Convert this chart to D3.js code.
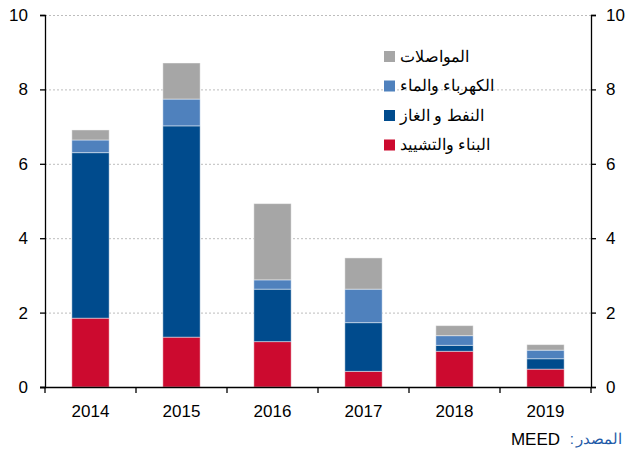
<!DOCTYPE html>
<html><head><meta charset="utf-8">
<script src="https://cdn.jsdelivr.net/npm/d3@7"></script>
<style>body{margin:0;background:#fff}svg{display:block}</style>
</head><body>
<script>
const years = ["2014","2015","2016","2017","2018","2019"];
const construction = [1.85, 1.34, 1.22, 0.42, 0.96, 0.48];
const oilGas = [4.45, 5.68, 1.41, 1.31, 0.16, 0.28];
const powerWater = [0.34, 0.72, 0.25, 0.90, 0.26, 0.23];
const telecom = [0.27, 0.97, 2.05, 0.84, 0.27, 0.15];
const seriesNames = ["البناء والتشييد", "النفط و الغاز", "الكهرباء والماء", "المواصلات"];
const seriesColors = ["#CC0A2F", "#004B8D", "#4F81BD", "#A6A6A6"];
const yTicks = [0, 2, 4, 6, 8, 10];

const W = 632, H = 452;
const m = {left: 45, right: 41, top: 15, bottom: 65};
const svg = d3.select("body").append("svg").attr("width", W).attr("height", H);
const x = d3.scaleBand().domain(years).range([m.left, W - m.right]).paddingInner(0).paddingOuter(0);
const y = d3.scaleLinear().domain([0, 10]).range([H - m.bottom, m.top]);

const keys = ["construction","oilGas","powerWater","telecom"];
const rows = years.map((yr, i) => ({year: yr, construction: construction[i], oilGas: oilGas[i], powerWater: powerWater[i], telecom: telecom[i]}));
const stacked = d3.stack().keys(keys)(rows);

// grid
svg.append("g").selectAll("line").data(yTicks.filter(d => d > 0)).join("line")
  .attr("x1", m.left).attr("x2", W - m.right)
  .attr("y1", d => y(d) + 0.5).attr("y2", d => y(d) + 0.5)
  .attr("stroke", "#bdbdbd").attr("stroke-width", 1).attr("stroke-dasharray", "2,2");

// bars
const bw = x.bandwidth() * 0.41;
svg.append("g").selectAll("g").data(stacked).join("g")
  .attr("fill", (d, i) => seriesColors[i])
  .selectAll("rect").data(d => d).join("rect")
  .attr("x", d => x(d.data.year) + (x.bandwidth() - bw) / 2)
  .attr("width", bw)
  .attr("y", d => y(d[1]))
  .attr("height", d => y(d[0]) - y(d[1]))
  .attr("stroke", "rgba(255,255,255,0.45)").attr("stroke-width", 1);

const fontFam = "'Liberation Sans', Arial, sans-serif";
// left axis
const la = svg.append("g").attr("transform", `translate(${m.left},0)`)
  .call(d3.axisLeft(y).tickValues(yTicks).tickSize(5).tickPadding(12).tickFormat(d3.format("d")));
// right axis
const ra = svg.append("g").attr("transform", `translate(${W - m.right},0)`)
  .call(d3.axisRight(y).tickValues(yTicks).tickSize(5).tickPadding(10).tickFormat(d3.format("d")));
// bottom axis
const ba = svg.append("g").attr("transform", `translate(0,${H - m.bottom})`)
  .call(d3.axisBottom(x).tickSize(0).tickPadding(18));
// bottom boundary ticks
svg.append("g").selectAll("line").data(d3.range(years.length + 1)).join("line")
  .attr("x1", i => m.left + i * x.step()).attr("x2", i => m.left + i * x.step())
  .attr("y1", H - m.bottom).attr("y2", H - m.bottom + 6)
  .attr("stroke", "#000").attr("stroke-width", 1.3);
[la, ra, ba].forEach(g => {
  g.select(".domain").attr("stroke", "#000").attr("stroke-width", 1.3);
  g.selectAll(".tick line").attr("stroke", "#000").attr("stroke-width", 1.3);
  g.selectAll("text").attr("font-family", fontFam).attr("font-size", 17).attr("fill", "#000");
});
ba.select(".domain").attr("d", `M${m.left - 5},0.5H${W - m.right}`);

// legend
const legendY = [145, 115.5, 86, 56.5];
const lg = svg.append("g");
seriesNames.forEach((name, i) => {
  lg.append("rect").attr("x", 384).attr("y", legendY[i] - 5.5).attr("width", 11).attr("height", 11).attr("fill", seriesColors[i]);
  lg.append("text").attr("x", 400).attr("y", legendY[i] + 5)
    .attr("font-family", fontFam).attr("font-size", 16).attr("fill", "#000").text(name);
});

// source
svg.append("text").attr("x", 622).attr("y", 444).attr("text-anchor", "end")
  .attr("font-family", fontFam).attr("font-size", 15).attr("fill", "#1F5BA8").text("المصدر");
svg.append("text").attr("x", 574).attr("y", 444).attr("text-anchor", "end")
  .attr("font-family", fontFam).attr("font-size", 15).attr("fill", "#1F5BA8").text(":");
svg.append("text").attr("x", 560).attr("y", 445).attr("text-anchor", "end")
  .attr("font-family", fontFam).attr("font-size", 17).attr("fill", "#000").text("MEED");
</script>
</body></html>
